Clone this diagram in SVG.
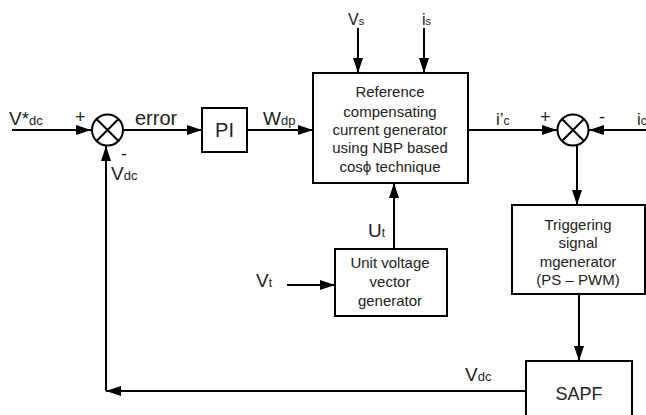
<svg xmlns="http://www.w3.org/2000/svg" width="646" height="415" viewBox="0 0 646 415">
<defs>
<marker id="ah" markerWidth="15" markerHeight="10" refX="15" refY="5" orient="auto" markerUnits="userSpaceOnUse">
<path d="M0,0 L15,5 L0,10 z" fill="#000"/>
</marker>
<style>
.box{fill:#fff;stroke:#000;stroke-width:2}
.ln{fill:none;stroke:#000;stroke-width:2}
.c{stroke:#000;stroke-width:2;fill:none;marker-end:url(#ah)}
text{font-family:"Liberation Sans",Arial,sans-serif;fill:#222}
.bt{font-size:15px;text-anchor:middle}
.lb{font-size:19px}
.sb{font-size:13px}
</style>
</defs>
<rect width="646" height="415" fill="#fff"/>
<g id="connectors">
<path class="c" d="M12,130 H91"/>
<path class="c" d="M123,130 H202"/>
<path class="c" d="M247,130 H313"/>
<path class="c" d="M358,28 V73"/>
<path class="c" d="M424,28 V73"/>
<path class="c" d="M468,130 H557"/>
<path class="c" d="M646,130 H589"/>
<path class="c" d="M577,146 V205"/>
<path class="c" d="M579,294 V361"/>
<path class="c" d="M394,249 V183"/>
<path class="c" d="M287,285 H335"/>
<path class="c" d="M530,391 H106"/>
<path class="c" d="M106,391 V146"/>
</g>
<g id="sum1">
<circle class="ln" cx="107.5" cy="130" r="15.5"/>
<path class="ln" d="M96.5,119 L118.5,141 M118.5,119 L96.5,141"/>
</g>
<g id="sum2">
<circle class="ln" cx="573" cy="130" r="15.5"/>
<path class="ln" d="M562,119 L584,141 M584,119 L562,141"/>
</g>
<g id="pi">
<rect class="box" x="202" y="108" width="45" height="44"/>
<text x="224.5" y="137" font-size="20" text-anchor="middle">PI</text>
</g>
<g id="refgen">
<rect class="box" x="313" y="73" width="155" height="110"/>
<text class="bt" x="390" y="97">Reference</text>
<text class="bt" x="390" y="117">compensating</text>
<text class="bt" x="390" y="135">current generator</text>
<text class="bt" x="390" y="153">using NBP based</text>
<text class="bt" x="390" y="172">cosϕ technique</text>
</g>
<g id="unitvec">
<rect class="box" x="335" y="249" width="112" height="67"/>
<text class="bt" x="390" y="268">Unit voltage</text>
<text class="bt" x="390" y="287">vector</text>
<text class="bt" x="390" y="306">generator</text>
</g>
<g id="trigger">
<rect class="box" x="512" y="205" width="133" height="89"/>
<text class="bt" x="578" y="230">Triggering</text>
<text class="bt" x="578" y="248">signal</text>
<text class="bt" x="578" y="267">mgenerator</text>
<text class="bt" x="578" y="285">(PS – PWM)</text>
</g>
<g id="sapf">
<rect class="box" x="526" y="361" width="106" height="60"/>
<text x="579" y="400" font-size="18" text-anchor="middle">SAPF</text>
</g>
<g id="labels">
<text class="lb" x="9" y="125">V*<tspan class="sb" font-size="13">dc</tspan></text>
<text x="75" y="123" font-size="18">+</text>
<text x="121" y="160" font-size="18">-</text>
<text class="lb" x="111" y="180">V<tspan font-size="13">dc</tspan></text>
<text x="135" y="125" font-size="20">error</text>
<text class="lb" x="263" y="125">W<tspan font-size="13">dp</tspan></text>
<text x="348" y="25" font-size="16">V<tspan font-size="11">s</tspan></text>
<text x="422" y="25" font-size="16">i<tspan font-size="11">s</tspan></text>
<text x="496" y="125" font-size="17">i’<tspan font-size="12">c</tspan></text>
<text x="540" y="123" font-size="18">+</text>
<text x="599" y="123" font-size="18">-</text>
<text x="637" y="125" font-size="17">i<tspan font-size="12">c</tspan></text>
<text class="lb" x="368" y="237">U<tspan font-size="12">t</tspan></text>
<text class="lb" x="256" y="287">V<tspan font-size="12">t</tspan></text>
<text class="lb" x="465" y="381">V<tspan font-size="13">dc</tspan></text>
</g>
</svg>
